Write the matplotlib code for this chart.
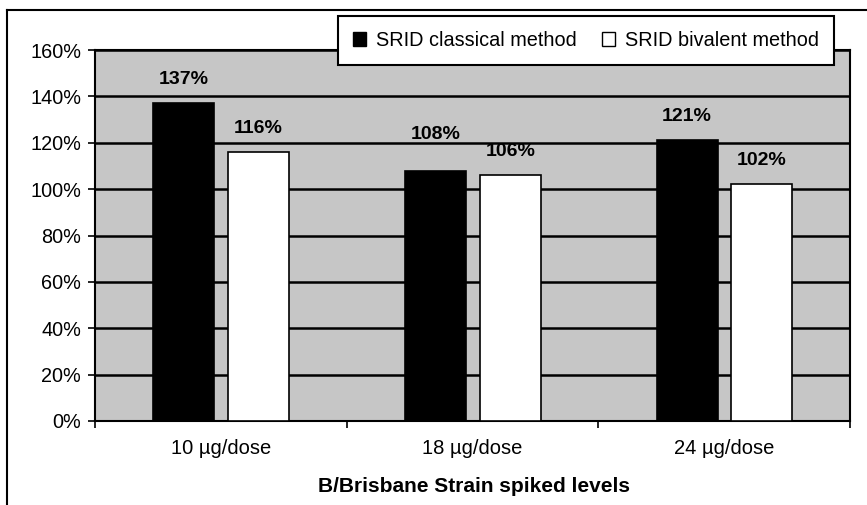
import numpy as np
import matplotlib.pyplot as plt
from matplotlib.lines import Line2D
from matplotlib.patches import Patch
from matplotlib.ticker import FuncFormatter

plt.rcParams['font.family'] = ['Liberation Sans', 'DejaVu Sans']

categories = ['10 µg/dose', '18 µg/dose', '24 µg/dose']
classical = [137, 108, 121]
bivalent = [116, 106, 102]
series_names = ['SRID classical method', 'SRID bivalent method']

fig = plt.figure(figsize=(8.67, 5.05), dpi=100)
ax = fig.add_axes([95 / 867, 84 / 505, 755 / 867, 371 / 505])
ax.set_facecolor('#c6c6c6')

x = np.arange(len(categories))
w = 0.242
b1 = ax.bar(x - 0.147, classical, w, color='black', edgecolor='black', linewidth=1.2, zorder=3)
b2 = ax.bar(x + 0.150, bivalent, w, color='white', edgecolor='black', linewidth=1.2, zorder=3)

# the 108% label is lifted clear of the 120% gridline
lift = {(0, 1): 9}
for si, (bars, vals) in enumerate([(b1, classical), (b2, bivalent)]):
    for ci, (bar, v) in enumerate(zip(bars, vals)):
        dy = 17 + lift.get((si, ci), 0)
        ax.annotate('%d%%' % v, (bar.get_x() + bar.get_width() / 2, v),
                    xytext=(0, dy), textcoords='offset points',
                    ha='center', va='center', fontsize=14, fontweight='bold', zorder=4)

ax.set_xlim(-0.5, 2.5)
ax.set_ylim(0, 160)
ax.set_yticks(np.arange(0, 161, 20))
ax.yaxis.set_major_formatter(FuncFormatter(lambda v, p: '%d%%' % v))
ax.yaxis.grid(True, color='black', linewidth=1.8, zorder=1)
ax.set_axisbelow(True)

# category ticks sit on the group boundaries, labels in the middle
ax.set_xticks([-0.5, 0.5, 1.5, 2.5])
ax.set_xticklabels([])
ax.set_xticks(x, minor=True)
ax.set_xticklabels(categories, minor=True, fontsize=14.5)
ax.tick_params(axis='x', which='minor', length=0, pad=13)
ax.tick_params(axis='x', which='major', length=5, width=1.2, direction='out')
ax.tick_params(axis='y', length=5, width=1.2, direction='out', labelsize=14.3, pad=5)

for s in ax.spines.values():
    s.set_linewidth(1.5)
    s.set_color('black')

fig.text(474 / 867, 1 - 486 / 505, 'B/Brisbane Strain spiked levels',
         ha='center', va='center', fontsize=15, fontweight='bold')

handles = [Patch(facecolor='black', edgecolor='black'),
           Patch(facecolor='white', edgecolor='black')]
leg = fig.legend(handles, series_names, loc='upper right', ncol=2,
                 bbox_to_anchor=(834 / 867, 1 - 16 / 505), bbox_transform=fig.transFigure,
                 borderaxespad=0, frameon=True, fancybox=False, framealpha=1,
                 edgecolor='black', fontsize=14.3, handlelength=0.65, handleheight=0.65,
                 handletextpad=0.5, columnspacing=1.3, borderpad=0.75)
leg.get_frame().set_linewidth(1.5)
leg.set_zorder(10)

# outer chart frame (left and top edges)
fig.add_artist(Line2D([7 / 867, 7 / 867], [0, 1 - 10 / 505], color='black', linewidth=1.5))
fig.add_artist(Line2D([7 / 867, 1], [1 - 10 / 505, 1 - 10 / 505], color='black', linewidth=1.5))

fig.savefig('out.png', dpi=100)
